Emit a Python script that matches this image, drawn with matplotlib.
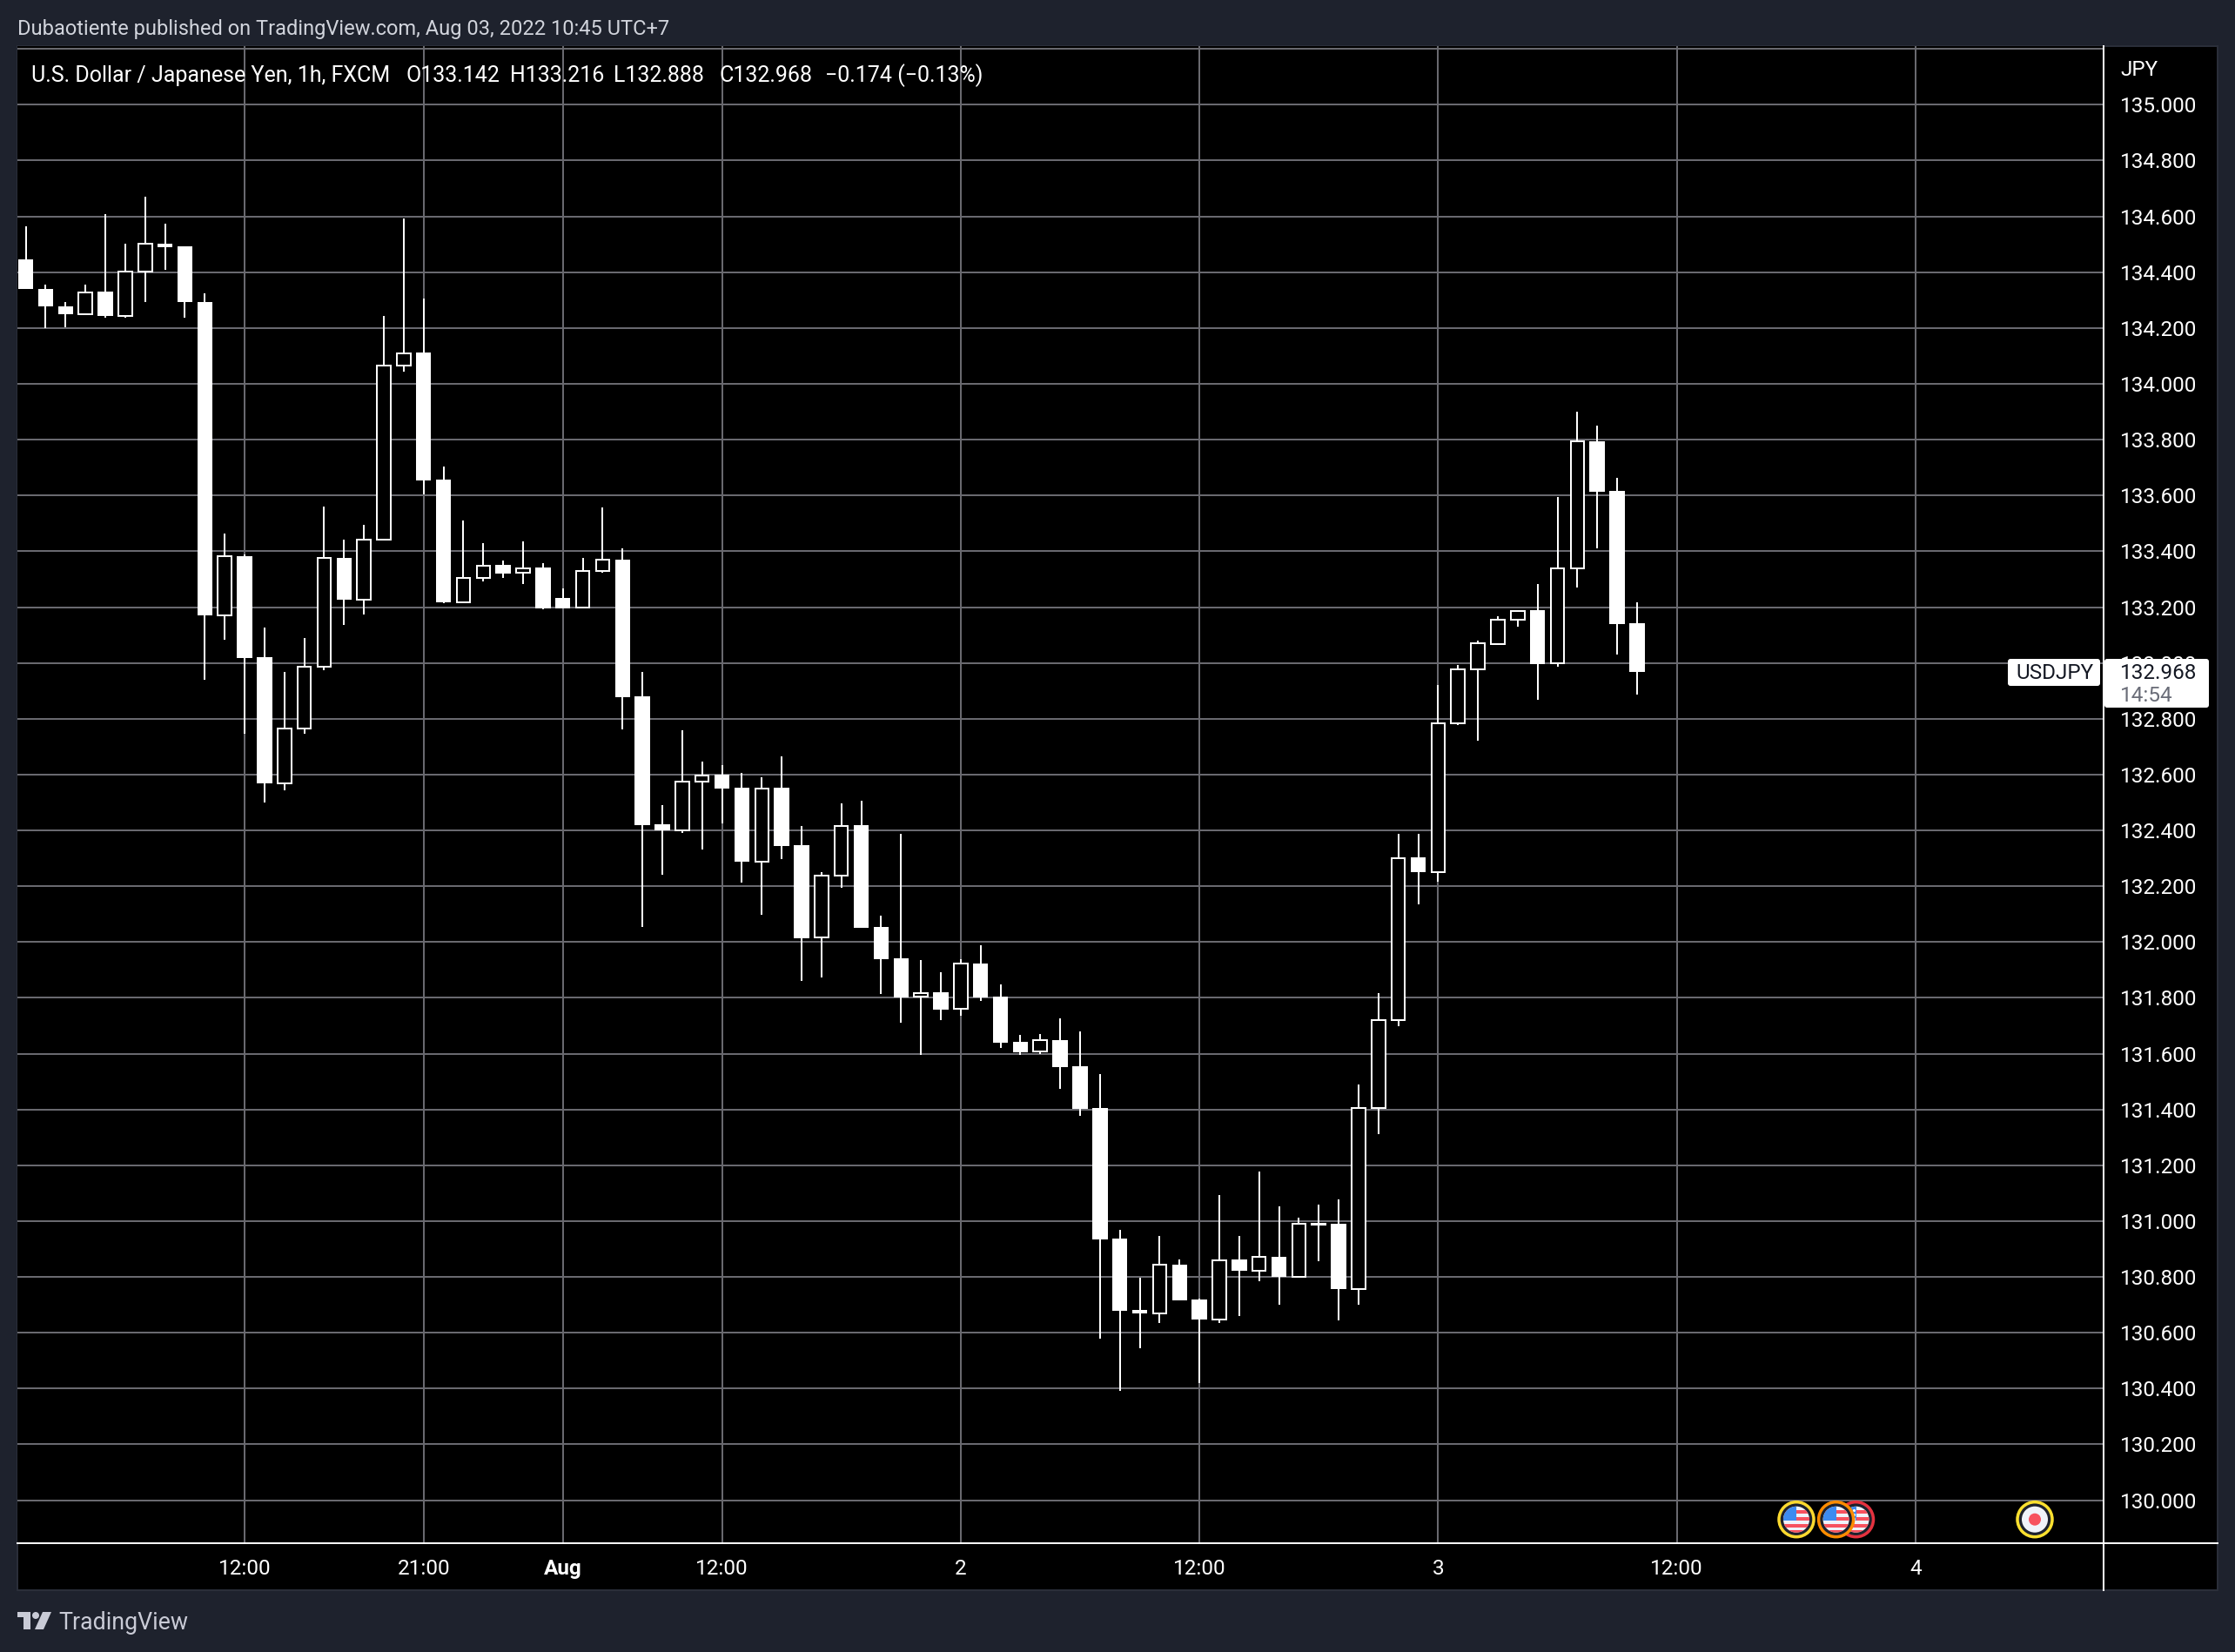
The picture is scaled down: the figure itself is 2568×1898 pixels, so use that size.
import numpy as np
import matplotlib
matplotlib.use('Agg')
import matplotlib.pyplot as plt
from matplotlib.patches import Rectangle, Circle, Polygon, FancyBboxPatch

plt.rcParams['font.family'] = ['Roboto', 'DejaVu Sans']

# hourly candles
opens = [134.446, 134.339, 134.279, 134.248, 134.331, 134.242, 134.402, 134.503, 134.493, 134.294,
         133.169, 133.382, 133.021, 132.570, 132.766, 132.985, 133.376, 133.228, 133.443, 134.067,
         134.112, 133.657, 133.218, 133.306, 133.351, 133.322, 133.342, 133.233, 133.197, 133.331,
         133.370, 132.881, 132.421, 132.400, 132.576, 132.599, 132.552, 132.289, 132.552, 132.346,
         132.016, 132.239, 132.419, 132.055, 131.942, 131.803, 131.821, 131.760, 131.924, 131.806,
         131.643, 131.607, 131.650, 131.556, 131.406, 130.938, 130.681, 130.670, 130.844, 130.719,
         130.648, 130.862, 130.823, 130.872, 130.801, 130.993, 130.991, 130.757, 131.404, 131.720,
         132.302, 132.252, 132.783, 132.978, 133.069, 133.155, 133.188, 132.999, 133.339, 133.795,
         133.616, 133.142]
highs = [134.566, 134.355, 134.294, 134.355, 134.607, 134.503, 134.672, 134.575, 134.493, 134.325,
         133.464, 133.388, 133.127, 132.967, 133.090, 133.560, 133.442, 133.494, 134.243, 134.593,
         134.306, 133.705, 133.510, 133.430, 133.367, 133.436, 133.357, 133.267, 133.376, 133.557,
         133.410, 132.967, 132.490, 132.758, 132.645, 132.633, 132.605, 132.590, 132.665, 132.416,
         132.250, 132.496, 132.506, 132.095, 132.387, 131.936, 131.892, 131.939, 131.989, 131.849,
         131.668, 131.671, 131.728, 131.681, 131.528, 130.969, 130.797, 130.947, 130.863, 130.721,
         131.094, 130.947, 131.178, 131.053, 131.012, 131.059, 131.078, 131.491, 131.816, 132.388,
         132.387, 132.922, 132.994, 133.080, 133.167, 133.186, 133.282, 133.596, 133.899, 133.849,
         133.662, 133.216]
lows = [134.339, 134.199, 134.204, 134.248, 134.236, 134.237, 134.293, 134.409, 134.237, 132.939,
        133.084, 132.746, 132.500, 132.543, 132.746, 132.973, 133.136, 133.173, 133.443, 134.043,
        133.604, 133.213, 133.218, 133.293, 133.305, 133.282, 133.193, 133.196, 133.197, 133.322,
        132.761, 132.055, 132.241, 132.391, 132.331, 132.424, 132.213, 132.098, 132.298, 131.861,
        131.874, 132.195, 132.052, 131.814, 131.711, 131.597, 131.721, 131.736, 131.789, 131.621,
        131.597, 131.600, 131.475, 131.378, 130.578, 130.391, 130.544, 130.634, 130.716, 130.419,
        130.634, 130.659, 130.784, 130.700, 130.801, 130.856, 130.644, 130.700, 131.312, 131.697,
        132.134, 132.217, 132.778, 132.721, 133.064, 133.131, 132.868, 132.986, 133.269, 133.412,
        133.029, 132.888]
closes = [134.339, 134.279, 134.248, 134.328, 134.242, 134.402, 134.501, 134.490, 134.293, 133.169,
          133.381, 133.018, 132.570, 132.766, 132.985, 133.375, 133.227, 133.443, 134.067, 134.110,
          133.654, 133.218, 133.306, 133.349, 133.319, 133.340, 133.196, 133.196, 133.331, 133.369,
          132.878, 132.419, 132.399, 132.576, 132.598, 132.549, 132.288, 132.551, 132.344, 132.014,
          132.239, 132.417, 132.052, 131.939, 131.802, 131.818, 131.758, 131.922, 131.802, 131.640,
          131.606, 131.649, 131.553, 131.403, 130.934, 130.678, 130.669, 130.843, 130.716, 130.647,
          130.861, 130.822, 130.871, 130.800, 130.989, 130.984, 130.756, 131.404, 131.720, 132.301,
          132.252, 132.783, 132.978, 133.072, 133.155, 133.185, 132.997, 133.339, 133.794, 133.612,
          133.139, 132.968]

x_tick_pos = [11, 20, 27, 35, 47, 59, 71, 83, 95]
x_tick_labels = ['12:00', '21:00', 'Aug', '12:00', '2', '12:00', '3', '12:00', '4']
price_ticks = [130.0, 130.2, 130.4, 130.6, 130.8, 131.0, 131.2, 131.4, 131.6, 131.8, 132.0, 132.2, 132.4,
               132.6, 132.8, 133.0, 133.2, 133.4, 133.6, 133.8, 134.0, 134.2, 134.4, 134.6, 134.8, 135.0, 135.2]

W, H = 2568, 1898
BG = '#1e222d'
GRID = '#69696f'
TEXT = '#ffffff'
px = 0.72  # one pixel in points at dpi 100

fig = plt.figure(figsize=(W / 100, H / 100), dpi=100, facecolor=BG)

# page and black panel, in pixels
back = fig.add_axes([0, 0, 1, 1], zorder=-1)
back.set_xlim(0, W)
back.set_ylim(H, 0)
back.axis('off')
back.add_patch(Rectangle((20, 53), 2528, 1774, fc='black', ec='#2a2e39', lw=2 * px))

# price chart
left, right, top, bottom = 20, 2416.7, 53, 1773
ax = fig.add_axes([left / W, 1 - bottom / H, (right - left) / W, (bottom - top) / H], facecolor='black')
ax.set_xlim(-0.42, 104.44)
ax.set_ylim(129.846, 135.21)

x = np.arange(len(opens))
o = np.array(opens)
c = np.array(closes)
down = c < o

ax.vlines(x, lows, highs, color='white', lw=2 * px, zorder=3)
ax.bar(x[down], (o - c)[down], bottom=c[down], width=0.766, color='white', lw=0, zorder=4)
ax.bar(x[~down], (c - o)[~down], bottom=o[~down], width=0.68, color='black', edgecolor='white',
       lw=2 * px, zorder=4)

ax.set_xticks(x_tick_pos)
ax.set_xticklabels(x_tick_labels)
ax.set_yticks(price_ticks)
ax.set_yticklabels(['%.3f' % p if p < 135.1 else '' for p in price_ticks])
ax.yaxis.tick_right()
ax.tick_params(axis='both', length=0, labelsize=17.5, labelcolor=TEXT)
ax.tick_params(axis='y', pad=14)
ax.tick_params(axis='x', pad=13)
ax.get_xticklabels()[2].set_fontweight('bold')
ax.grid(True, color=GRID, lw=2 * px)
ax.set_axisbelow(True)
for side in ['top', 'left']:
    ax.spines[side].set_visible(False)
for side in ['right', 'bottom']:
    ax.spines[side].set_color('white')
    ax.spines[side].set_linewidth(2 * px)

# everything that sits on top of the chart, in pixels
over = fig.add_axes([0, 0, 1, 1], zorder=5)
over.set_xlim(0, W)
over.set_ylim(H, 0)
over.axis('off')
over.plot([2416.7, 2416.7], [1773, 1827], color='white', lw=2 * px)
over.plot([2416.7, 2548], [1773, 1773], color='white', lw=2 * px)


def label(xp, yp, s, color=TEXT, size=18, **kw):
    over.text(xp, yp, s, color=color, fontsize=size, va='center', **kw)


label(20, 33, 'Dubaotiente published on TradingView.com, Aug 03, 2022 10:45 UTC+7', color='#d1d4dc', size=17)
label(36, 87, 'U.S. Dollar / Japanese Yen, 1h, FXCM')
label(466, 87, 'O133.142')
label(586, 87, 'H133.216')
label(705, 87, 'L132.888')
label(826, 87, 'C132.968')
label(948, 87, '\u22120.174 (\u22120.13%)')
label(2436, 80, 'JPY', size=17.5)
label(67, 1865, 'TradingView', color='#c9cbd6', size=19.3)

# last price tag
over.add_patch(FancyBboxPatch((2418, 757), 120, 56, boxstyle='round,pad=0,rounding_size=3', fc='white', ec='none'))
over.add_patch(FancyBboxPatch((2307, 757), 106, 31, boxstyle='round,pad=0,rounding_size=3', fc='white', ec='none'))
label(2316, 774, 'USDJPY', color='#131722', size=17.5)
label(2436, 774, '132.968', color='#131722', size=17.5)
label(2436, 800, '14:54', color='#6a6d78', size=17.5)

# TradingView logo
logo = '#c9cbd6'
over.add_patch(Polygon([(20, 1852), (35, 1852), (35, 1872), (27, 1872), (27, 1858), (20, 1858)], fc=logo, ec='none'))
over.add_patch(Circle((41, 1856), 4, fc=logo, ec='none'))
over.add_patch(Polygon([(49, 1852), (59, 1852), (50, 1872), (40, 1872)], fc=logo, ec='none'))


# economic event icons on the right
def us_flag(cx, cy, ring):
    over.add_patch(Circle((cx, cy), 20, fc='#1e222d', ec=ring, lw=3.5 * px, zorder=6))
    disc = Circle((cx, cy), 15, fc='#f0f3fa', ec='none', zorder=7)
    over.add_patch(disc)
    for dy in [-11, -3, 5, 12]:
        s = Rectangle((cx - 15, cy + dy), 30, 4, fc='#f7525f', ec='none', zorder=7)
        over.add_patch(s)
        s.set_clip_path(disc)
    canton = Rectangle((cx - 15, cy - 15), 15, 16, fc='#3d8bf0', ec='none', zorder=7)
    over.add_patch(canton)
    canton.set_clip_path(disc)
    sx, sy = np.meshgrid([cx - 11, cx - 7, cx - 3], [cy - 11, cy - 6, cy - 1])
    over.scatter(sx.ravel(), sy.ravel(), s=5, color='white', lw=0, zorder=7)


us_flag(2132.5, 1745.7, '#e5323f')
over.add_patch(Circle((2338, 1745.7), 20, fc='#1e222d', ec='#fbe02f', lw=3.5 * px))
over.add_patch(Circle((2338, 1745.7), 15, fc='#f0f3fa', ec='none'))
over.add_patch(Circle((2338, 1745.7), 7, fc='#f7525f', ec='none'))
us_flag(2064, 1745.7, '#fbd92f')
for a in over.patches[-7:]:
    a.set_zorder(8)
us_flag(2109.6, 1745.7, '#fb8c00')
for a in over.patches[-7:]:
    a.set_zorder(9)

fig.savefig('out.png', dpi=100, facecolor=BG)
